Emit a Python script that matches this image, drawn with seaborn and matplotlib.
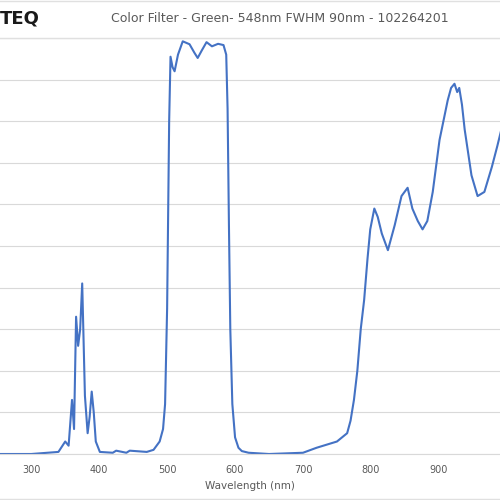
import matplotlib
matplotlib.use("Agg")
import matplotlib.pyplot as plt
import seaborn as sns
import pandas as pd

# transmission curve
wavelength = [254, 300, 340, 350, 355, 360, 363, 366, 369, 372, 375, 379, 383, 386, 389, 392, 395, 401, 420, 425, 440, 445,
              470, 480, 489, 494, 497, 500, 503, 505, 508, 511, 516, 523, 533, 540, 545, 551, 558, 566, 575, 583, 587,
              589, 591, 593, 596, 600, 605, 610, 620, 650, 700, 720, 750, 765, 770, 775, 780, 785, 790, 795, 799, 805, 810,
              816, 825, 835, 845, 854, 861, 869, 876, 883, 891, 901, 913, 918, 923, 927, 930, 934, 938, 948, 957,
              967, 978, 986, 995]
transmission = [0, 0, 0.5, 3, 2, 13, 6, 33, 26, 30, 41, 14, 5, 9, 15, 10, 3, 0.5, 0.3, 0.8, 0.3, 0.8,
                0.5, 1, 3, 6, 12, 35, 80, 95.5, 93, 92, 96, 99.2, 98.5, 96.5, 95.2, 97, 99, 98, 98.6, 98.3, 96,
                83, 55, 30, 12, 4, 1.5, 0.7, 0.3, 0, 0.3, 1.5, 3, 5, 8, 13, 20, 30, 37, 47, 54, 59, 57,
                53, 49, 55, 62, 64, 59, 56, 54, 56, 63, 75.5, 85, 88, 89, 87, 88, 84, 78, 67, 62,
                63, 69, 74, 80]

df = pd.DataFrame({"Wavelength (nm)": wavelength, "Transmission": transmission})

fig = plt.figure(figsize=(5, 5), dpi=100)
ax = fig.add_axes([0.0, 0.092, 1.0, 0.832])
sns.lineplot(data=df, x="Wavelength (nm)", y="Transmission", ax=ax, color="#4472C4", linewidth=1.5)

ax.set_xlim(254, 990)
ax.set_ylim(0, 100)
ax.set_xticks(range(300, 1000, 100))
ax.set_yticks(range(0, 101, 10))
ax.set_yticklabels([])
ax.tick_params(axis="y", length=0)
ax.tick_params(axis="x", length=0, labelsize=7, colors="#595959", pad=8)
ax.grid(axis="y", color="#D9D9D9", linewidth=0.8)
ax.set_axisbelow(True)
for s in ["top", "right", "left"]:
    ax.spines[s].set_visible(False)
ax.spines["bottom"].set_color("#D9D9D9")
ax.set_ylabel("")
ax.set_xlabel("Wavelength (nm)", fontsize=7.5, color="#595959", labelpad=4)

fig.text(0.56, 0.962, "Color Filter - Green- 548nm FWHM 90nm - 102264201",
         ha="center", va="center", fontsize=9, color="#595959")
fig.text(0.0, 0.962, "TEQ", ha="left", va="center", fontsize=13, fontweight="bold", color="#1a1a1a")
fig.add_artist(plt.Line2D([0, 1], [0.998, 0.998], color="#E0E0E0", lw=1))
fig.add_artist(plt.Line2D([0, 1], [0.925, 0.925], color="#E0E0E0", lw=1))
fig.add_artist(plt.Line2D([0, 1], [0.003, 0.003], color="#E0E0E0", lw=1))

fig.savefig("out.png", dpi=100)
